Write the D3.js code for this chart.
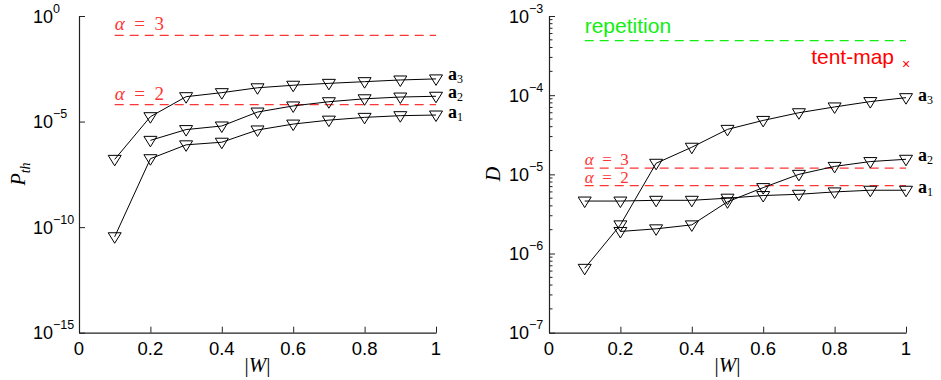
<!DOCTYPE html>
<html>
<head>
<meta charset="utf-8">
<script src="https://cdn.jsdelivr.net/npm/d3@7"></script>
<style>
  body { margin: 0; background: #fff; }
  svg { display: block; }
  .tick text { display: none; }
</style>
</head>
<body>
<svg id="chart" width="941" height="380"></svg>
<script>
// |W| values
var wAll = [0.1, 0.2, 0.3, 0.4, 0.5, 0.6, 0.7, 0.8, 0.9, 1.0];
var wFrom2 = [0.2, 0.3, 0.4, 0.5, 0.6, 0.7, 0.8, 0.9, 1.0];
var xTicks = [0, 0.2, 0.4, 0.6, 0.8, 1];

// left panel: P_th
var pthA3 = [1.62e-7, 1.7e-5, 1.51e-4, 2.34e-4, 3.98e-4, 5.25e-4, 6.46e-4, 7.76e-4, 9.33e-4, 1.05e-3];
var pthA2 = [1.29e-6, 4.17e-6, 6.17e-6, 2.82e-5, 5.5e-5, 8.7e-5, 1.2e-4, 1.45e-4, 1.58e-4];
var pthA1 = [3.5e-11, 1.74e-7, 7.9e-7, 1.05e-6, 4.0e-6, 7.6e-6, 1.17e-5, 1.58e-5, 1.9e-5, 2.04e-5];
var pthAlpha = [0.12, 6.3e-5];          // alpha = 3, alpha = 2
var pthTicksExp = [0, -5, -10, -15];

// right panel: D
var dA3 = [6.5e-7, 2.3e-6, 1.38e-5, 2.2e-5, 3.7e-5, 4.8e-5, 6.0e-5, 7.1e-5, 8.3e-5, 9.3e-5];
var dA2 = [1.9e-6, 2.05e-6, 2.3e-6, 4.5e-6, 6.8e-6, 1.0e-5, 1.26e-5, 1.45e-5, 1.55e-5];
var dA1 = [4.6e-6, 4.6e-6, 4.7e-6, 4.7e-6, 5.0e-6, 5.4e-6, 5.6e-6, 6.0e-6, 6.3e-6, 6.3e-6];
var dAlpha = [1.2e-5, 7.2e-6];          // alpha = 3, alpha = 2
var dRepetition = 4.9e-4;
var dTentMap = 2.5e-4;
var dTicksExp = [-3, -4, -5, -6, -7];

var svg = d3.select("#chart");
var sans = "'Liberation Sans', Arial, sans-serif";
var serif = "'Liberation Serif', 'Times New Roman', serif";
var red = "#ff3535";

function drawPanel(opt) {
  var x = d3.scaleLinear().domain([0, 1]).range([opt.left, opt.left + 357]);
  var y = d3.scaleLog().domain(opt.yDomain).range([332.7, 16]);
  var g = svg.append("g");

  // axes with inward ticks
  var xAxis = d3.axisBottom(x).tickValues(xTicks).tickSize(-6).tickSizeOuter(0);
  g.append("g").attr("transform", "translate(0,332.7)").call(xAxis);
  var yAxis = d3.axisLeft(y).tickValues(opt.ticksExp.map(e => Math.pow(10, e))).tickSize(-6).tickSizeOuter(0);
  g.append("g").attr("transform", "translate(" + opt.left + ",0)").call(yAxis);
  g.selectAll(".domain").attr("stroke", "#222").attr("stroke-width", 1.2);
  g.selectAll(".tick line").attr("stroke", "#222");

  // minor log ticks
  if (opt.minor) {
    var minors = [];
    opt.ticksExp.slice(1).forEach(function (e) {
      for (var m = 2; m <= 9; m++) minors.push(m * Math.pow(10, e));
    });
    g.selectAll(".minor").data(minors).enter().append("line")
      .attr("x1", opt.left).attr("x2", opt.left + 3.5)
      .attr("y1", d => y(d)).attr("y2", d => y(d))
      .attr("stroke", "#222");
  }

  // tick labels
  g.selectAll(".xl").data(xTicks).enter().append("text")
    .attr("x", d => x(d)).attr("y", 355)
    .attr("text-anchor", "middle")
    .style("font-family", sans).style("font-size", "18.5px")
    .text(d => d3.format("")(d));
  var yl = g.selectAll(".yl").data(opt.ticksExp).enter().append("text")
    .attr("x", opt.left - opt.labelGap).attr("y", d => y(Math.pow(10, d)) + 6.5)
    .style("font-family", sans).style("font-size", "18px");
  yl.append("tspan").text("10");
  yl.append("tspan").attr("dy", -10).style("font-size", "12.5px")
    .text(d => d === 0 ? "0" : "\u2212" + (-d));

  // dashed reference lines
  opt.refs.forEach(function (r) {
    g.append("line")
      .attr("x1", x(0.1)).attr("x2", x(1))
      .attr("y1", y(r.v)).attr("y2", y(r.v))
      .attr("stroke", r.color).attr("stroke-width", 1.2)
      .attr("stroke-dasharray", "9,6");
    var t = g.append("text").attr("x", x(0.1)).attr("y", y(r.v) + r.dy)
      .attr("fill", r.color).style("font-size", r.size + "px");
    if (r.alpha) {
      t.style("font-family", serif);
      t.append("tspan").style("font-style", "italic").text("\u03b1");
      t.append("tspan").text("\u2002=\u2002" + r.alpha);
    } else {
      t.style("font-family", sans).text(r.label);
    }
  });

  // series
  var line = d3.line().x(d => x(d[0])).y(d => y(d[1]));
  var tri = "M-6.5,-4 L6.5,-4 L0,6.5 Z";
  opt.series.forEach(function (s) {
    var pts = d3.zip(s.w, s.v);
    g.append("path").datum(pts).attr("d", line)
      .attr("fill", "none").attr("stroke", "#000").attr("stroke-width", 1);
    g.selectAll(null).data(pts).enter().append("path")
      .attr("d", tri)
      .attr("transform", d => "translate(" + x(d[0]) + "," + y(d[1]) + ")")
      .attr("fill", "none").attr("stroke", "#000").attr("stroke-width", 1);
    var lab = g.append("text")
      .attr("x", x(1) + 12).attr("y", y(s.v[s.v.length - 1]) + s.dy)
      .style("font-family", serif).style("font-size", "18px");
    lab.append("tspan").style("font-weight", "bold").text("a");
    lab.append("tspan").attr("dy", 3).style("font-size", "12px").text(s.name);
  });

  // axis title
  var xt = g.append("text").attr("x", x(0.5)).attr("y", 372)
    .attr("text-anchor", "middle")
    .style("font-family", serif).style("font-size", "21px");
  xt.append("tspan").text("|");
  xt.append("tspan").style("font-style", "italic").text("W");
  xt.append("tspan").text("|");
  var ytl = g.append("text")
    .attr("transform", "translate(" + opt.ylabelX + ",174) rotate(-90)")
    .attr("text-anchor", "middle")
    .style("font-family", serif).style("font-size", "20px").style("font-style", "italic");
  ytl.append("tspan").text(opt.ylabel);
  if (opt.ysub) ytl.append("tspan").attr("dy", 5).style("font-size", "14px").text(opt.ysub);

  return { x: x, y: y, g: g };
}

drawPanel({
  left: 79, yDomain: [1e-15, 1], ticksExp: pthTicksExp, minor: false, labelGap: 46,
  ylabel: "P", ysub: "th", ylabelX: 25,
  refs: [
    { v: pthAlpha[0], color: red, alpha: 3, dy: -5, size: 19 },
    { v: pthAlpha[1], color: red, alpha: 2, dy: -5, size: 19 }
  ],
  series: [
    { w: wAll, v: pthA3, name: "3", dy: 1 },
    { w: wFrom2, v: pthA2, name: "2", dy: 2 },
    { w: wAll, v: pthA1, name: "1", dy: 3 }
  ]
});

var right = drawPanel({
  left: 549, yDomain: [1e-7, 1e-3], ticksExp: dTicksExp, minor: true, labelGap: 40,
  ylabel: "D", ylabelX: 500,
  refs: [
    { v: dRepetition, color: "#11ee11", label: "repetition", dy: -8, size: 21 },
    { v: dAlpha[0], color: red, alpha: 3, dy: -3, size: 17 },
    { v: dAlpha[1], color: red, alpha: 2, dy: -3, size: 17 }
  ],
  series: [
    { w: wAll, v: dA3, name: "3", dy: 3 },
    { w: wFrom2, v: dA2, name: "2", dy: 2 },
    { w: wAll, v: dA1, name: "1", dy: 3 }
  ]
});

// tent-map marker at |W| = 1
right.g.append("text")
  .attr("x", right.x(1)).attr("y", right.y(dTentMap) + 5)
  .attr("text-anchor", "middle").attr("fill", "#f00")
  .style("font-family", sans).style("font-size", "14px").text("\u00d7");
right.g.append("text")
  .attr("x", right.x(1) - 12).attr("y", right.y(dTentMap))
  .attr("text-anchor", "end").attr("fill", "#f00")
  .style("font-family", sans).style("font-size", "21px").text("tent-map");
</script>
</body>
</html>
